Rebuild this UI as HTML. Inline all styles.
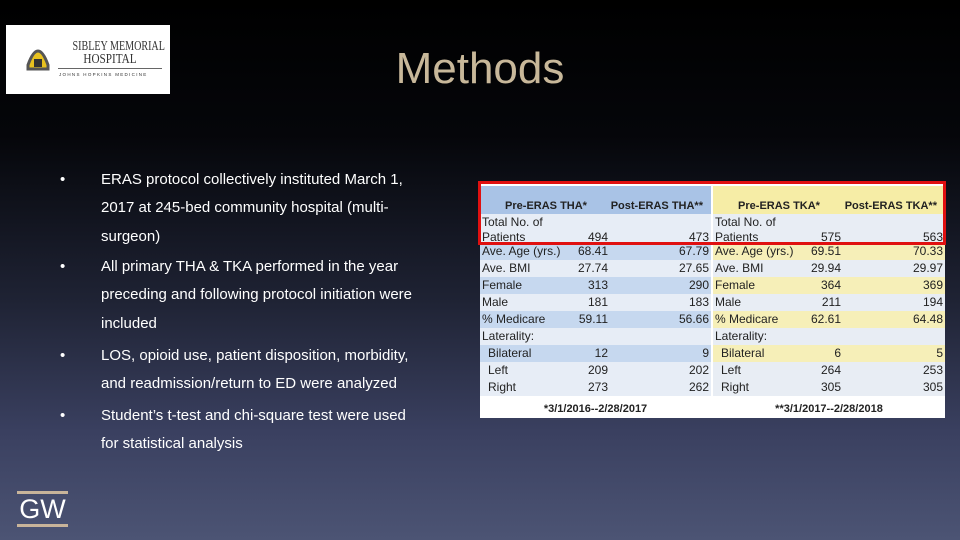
<!DOCTYPE html>
<html><head><meta charset="utf-8"><style>
body{margin:0;width:960px;height:540px;overflow:hidden;font-family:"Liberation Sans",sans-serif;}
#slide{position:relative;width:960px;height:540px;background:linear-gradient(180deg,#000 0%,#05060a 25%,#1e2233 55%,#3a4060 80%,#4c5474 100%);}
.abs{position:absolute;}
.bul{position:absolute;left:60px;color:#fff;font-size:15px;line-height:28.3px;}
.bul span.dot{position:absolute;left:0;}
.bul div.t{position:absolute;left:41px;width:400px;white-space:nowrap;}
.cell{position:absolute;font-size:12px;color:#222;height:17px;line-height:17px;white-space:nowrap;}
</style></head><body>
<div id="slide">
<div class="abs" style="left:6px;top:25px;width:164px;height:69px;background:#fff;">
 <svg width="164" height="69"><path d="M22 40 Q32 12 42 40 L42 44 L22 44Z" fill="#e8c21f" stroke="#555" stroke-width="3"/><rect x="28" y="34" width="8" height="8" fill="#333"/></svg>
 <div class="abs" style="left:52px;top:15px;font-family:'Liberation Serif',serif;font-size:14px;line-height:13px;color:#333;text-align:center;width:104px;white-space:nowrap;">
  <div style="transform:scaleX(0.72);transform-origin:center;">SIBLEY MEMORIAL</div>
  <div style="transform:scaleX(0.8);transform-origin:center;">HOSPITAL</div>
 </div>
 <div class="abs" style="left:52px;top:43px;width:104px;border-top:1px solid #666;"></div>
 <div class="abs" style="left:53px;top:47px;font-size:4.5px;letter-spacing:1.3px;color:#333;white-space:nowrap;">JOHNS HOPKINS MEDICINE</div>
</div>
<div class="abs" style="left:330px;top:44px;width:300px;text-align:center;font-size:44px;color:#c8b89a;">Methods</div>
<div class="bul" style="top:166px;"><span class="dot">•</span><div class="t">ERAS protocol collectively instituted March 1,<br>2017 at 245-bed community hospital (multi-<br>surgeon)</div></div>
<div class="bul" style="top:253px;"><span class="dot">•</span><div class="t">All primary THA &amp; TKA performed in the year<br>preceding and following protocol initiation were<br>included</div></div>
<div class="bul" style="top:342px;"><span class="dot">•</span><div class="t">LOS, opioid use, patient disposition, morbidity,<br>and readmission/return to ED were analyzed</div></div>
<div class="bul" style="top:402px;"><span class="dot">•</span><div class="t">Student’s t-test and chi-square test were used<br>for statistical analysis</div></div>
<div class="abs" style="left:17px;top:491px;width:51px;height:37px;">
 <div class="abs" style="left:0;top:0;width:51px;height:3px;background:#c8b49a;"></div>
 <div class="abs" style="left:0;top:2px;width:51px;text-align:center;font-size:27px;color:#fff;line-height:32px;">GW</div>
 <div class="abs" style="left:0;top:33px;width:51px;height:3px;background:#c8b49a;"></div>
</div>
<div id="tbl" class="abs" style="left:480px;top:184px;width:465px;height:234px;background:#fff;"></div>
<div class="abs" style="left:478px;top:181px;width:462px;height:58px;border:3px solid #e01010;"></div>
</div>
<script>
const labels=["Ave. Age (yrs.)","Ave. BMI","Female","Male","% Medicare","Laterality:","Bilateral","Left","Right"];
const preTHA=["68.41","27.74","313","181","59.11","","12","209","273"];
const postTHA=["67.79","27.65","290","183","56.66","","9","202","262"];
const preTKA=["69.51","29.94","364","211","62.61","","6","264","305"];
const postTKA=["70.33","29.97","369","194","64.48","","5","253","305"];
const totals=["494","473","575","563"];
const tbl=document.getElementById('tbl');
function box(x,y,w,h,bg,name){const d=document.createElement('div');d.className='abs';d.style.cssText=`left:${x}px;top:${y}px;width:${w}px;height:${h}px;background:${bg}`;


tbl.appendChild(d);return d;}
function txt(x,y,s,align,w,bold,name){const d=document.createElement('div');d.className='cell';d.textContent=s;d.style.left=x+'px';d.style.top=y+'px';d.style.width=w+'px';d.style.textAlign=align;if(bold){d.style.fontWeight='bold';d.style.fontSize='11px';}


tbl.appendChild(d);}
const sides=[{x0:0,w:231,c1:98,hdr:"#a9c3e6",dark:"#c6d8ef",light:"#e7edf6",h:["Pre-ERAS THA*","Post-ERAS THA**"],a:preTHA,b:postTHA,t:[totals[0],totals[1]],k:"tha"},
{x0:233,w:232,c1:98,hdr:"#f6eda6",dark:"#f6efb8",light:"#e8edf4",h:["Pre-ERAS TKA*","Post-ERAS TKA**"],a:preTKA,b:postTKA,t:[totals[2],totals[3]],k:"tka"}];
const darkRows=[0,2,4,6];
sides.forEach(s=>{
 box(s.x0,2,s.w,28,s.hdr,s.k+'-header');
 txt(s.x0,14,s.h[0],'center',s.c1+34,true,s.k+'-pre-header');
 txt(s.x0+s.c1+2,14,s.h[1],'right',s.w-s.c1-10,true,s.k+'-post-header');
 box(s.x0,30,s.w,29,s.light,s.k+'-total-row');
 txt(s.x0+2,30,"Total No. of",'left',90,false,s.k+'-total-label');
 txt(s.x0+2,45,"Patients",'left',90,false,s.k+'-total-label2');
 txt(s.x0,45,s.t[0],'right',s.c1+30,false,s.k+'-total-pre');
 txt(s.x0,45,s.t[1],'right',s.w-2,false,s.k+'-total-post');
 labels.forEach((l,i)=>{const y=59+i*17;
  box(s.x0,y,s.w,17,darkRows.includes(i)?s.dark:s.light,s.k+'-row-'+i);
  txt(s.x0+(i>=6?8:2),y,l,'left',90,false,s.k+'-label-'+i);
  txt(s.x0,y,s.a[i],'right',s.c1+30,false,s.k+'-pre-'+i);
  txt(s.x0,y,s.b[i],'right',s.w-2,false,s.k+'-post-'+i);
 });
});
box(231,0,2,216,"#fff",'table-divider');
txt(0,217,"*3/1/2016--2/28/2017",'center',231,true,'footnote-pre');
txt(233,217,"**3/1/2017--2/28/2018",'center',232,true,'footnote-post');
</script>
</body></html>
